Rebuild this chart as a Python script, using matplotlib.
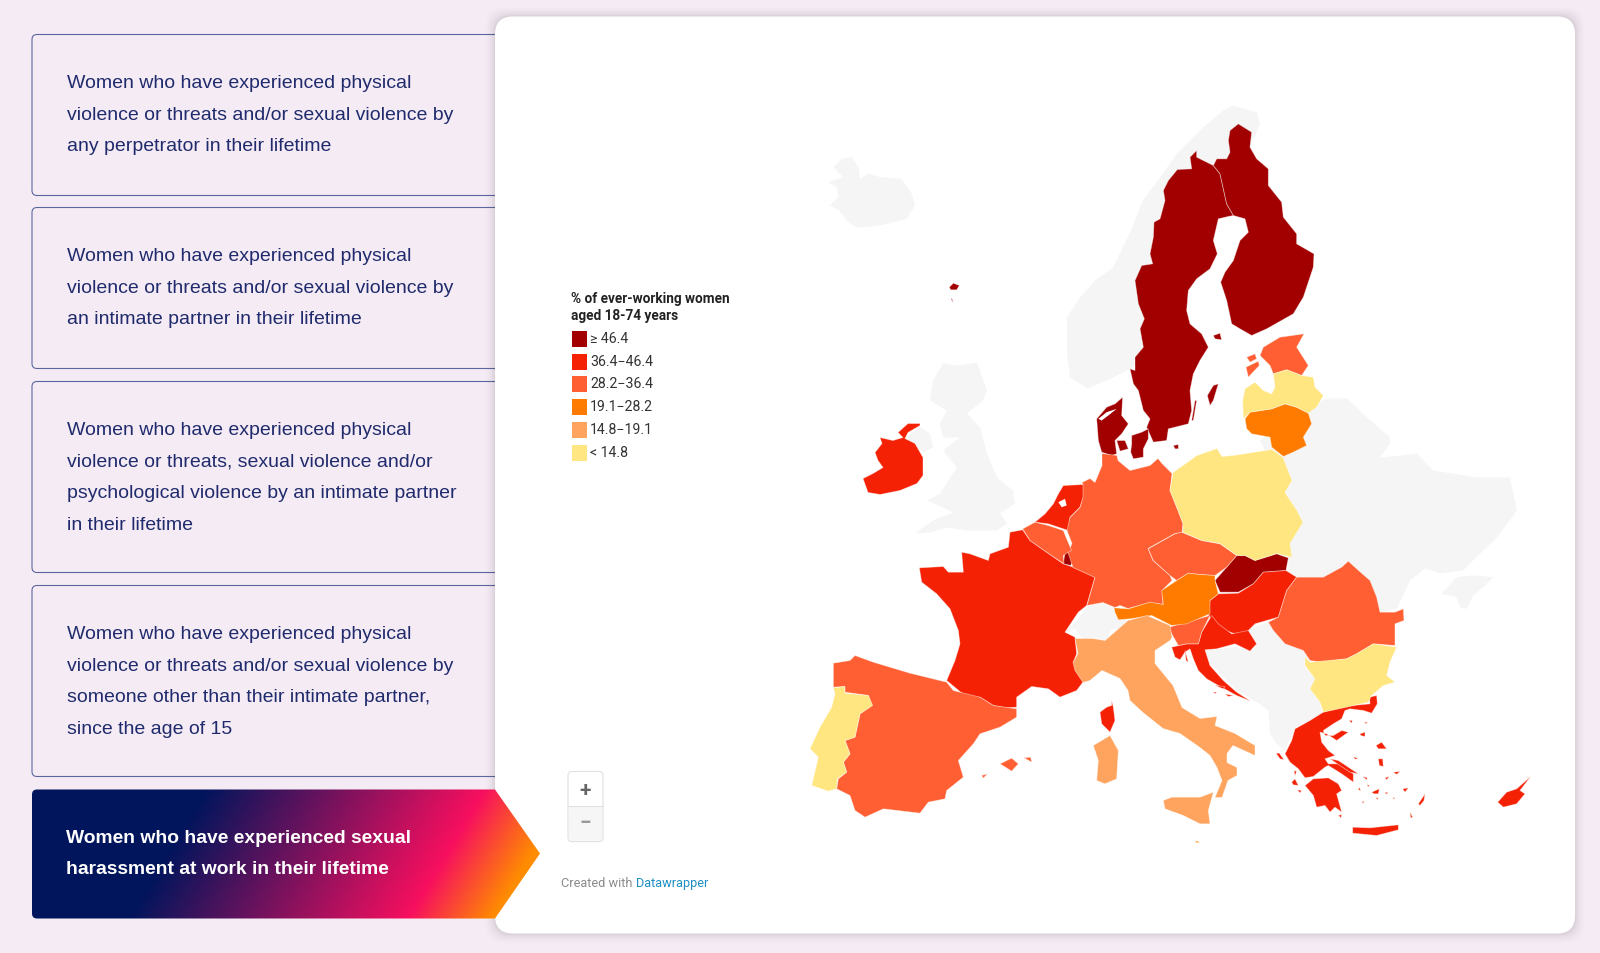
import matplotlib
matplotlib.use("Agg")
import matplotlib.pyplot as plt
import numpy as np
from matplotlib.patches import FancyBboxPatch, Polygon, Rectangle, PathPatch
from matplotlib.path import Path


def crop(x0, y0, pts):
    return [(x0 + x / 3, y0 + y / 3) for x, y in pts]

def nw(pts):
    return crop(780, 90, pts)

def ne(pts):
    return crop(1100, 90, pts)

def sw(pts):
    return crop(800, 480, pts)

def se(pts):
    return crop(1120, 480, pts)

def gr(pts):
    return crop(1270, 690, pts)

def dk(pts):
    return crop(1090, 390, pts)

def hr(pts):
    return crop(1160, 610, pts)


CARD_TEXTS = [
    "Women who have experienced physical\nviolence or threats and/or sexual violence by\nany perpetrator in their lifetime",
    "Women who have experienced physical\nviolence or threats and/or sexual violence by\nan intimate partner in their lifetime",
    "Women who have experienced physical\nviolence or threats, sexual violence and/or\npsychological violence by an intimate partner\nin their lifetime",
    "Women who have experienced physical\nviolence or threats and/or sexual violence by\nsomeone other than their intimate partner,\nsince the age of 15",
]
ACTIVE_TEXT = "Women who have experienced sexual\nharassment at work in their lifetime"
LEGEND_TITLE = "% of ever-working women\naged 18-74 years"
LEGEND_LABELS = ["≥ 46.4", "36.4−46.4", "28.2−36.4", "19.1−28.2", "14.8−19.1", "< 14.8"]
CLASS_COLOURS = ["#a20000", "#f52105", "#ff5f32", "#ff7b00", "#ffa45e", "#ffe680"]
NO_DATA = "#f5f5f5"

# no data
ICELAND = nw([(160,230),(185,205),(215,200),(235,230),(240,265),(265,250),(300,260),(365,265),(395,310),(405,345),(380,385),(300,405),(235,412),(205,395),(178,360),(150,345),(175,320),(170,290),(145,275),(190,260)])
NORWAY = [(1260,123),(1257,112),(1233,105),(1223,110),(1200,130),(1177,153),(1160,177),(1143,200),(1130,232),(1113,267),(1095,280),(1080,297),(1067,317),(1067,353),(1070,377),(1088,388),(1113,377),(1133,367),(1180,300),(1240,170)]
UK = [(943,363),(957,365),(977,362),(987,390),(983,400),(967,413),(980,427),(987,453),(997,477),(1013,490),(1015,503),(1000,513),(1007,523),(997,530),(967,530),(947,527),(930,532),(915,533),(933,520),(953,512),(943,507),(927,500),(940,493),(957,467),(943,450),(960,437),(943,437),(940,423),(947,410),(930,400),(933,380)]
N_IRELAND = nw([(380,1040),(420,1010),(450,1030),(460,1070),(430,1085),(400,1065)])
SWITZERLAND = sw([(830,420),(860,380),(905,365),(945,375),(945,405),(980,420),(965,445),(935,445),(920,480),(880,470),(850,478),(825,445),(790,458)])
EAST_BLOCK = [(1307,407),(1327,398),(1347,398),(1367,417),(1390,437),(1390,443),(1380,457),(1400,455),(1417,453),(1433,470),(1477,477),(1510,477),(1517,510),(1497,537),(1473,560),(1463,570),(1440,573),(1425,568),(1410,580),(1397,608),(1380,612),(1330,620),(1290,580),(1280,480),(1260,440)]
CRIMEA = se([(965,340),(1010,290),(1060,285),(1120,290),(1100,310),(1060,345),(1040,385),(1020,380),(1010,350)])
BALKANS = se([(385,445),(430,430),(445,425),(495,490),(550,510),(570,540),(555,560),(585,595),(570,625),(600,665),(605,700),(560,725),(525,740),(495,810),(470,790),(450,760),(445,690),(420,670),(350,630),(310,590),(265,545),(258,510),(345,500),(400,510),(410,490)])

# class 0
SWEDEN = ne([(290,180),(270,200),(275,235),(232,237),(205,270),(190,300),(195,330),(180,385),(162,395),(160,440),(150,490),(158,520),(125,525),(105,570),(115,640),(133,685),(120,715),(130,770),(105,800),(105,840),(90,835),(100,880),(115,900),(130,960),(150,985),(140,1010),(160,1055),(200,1050),(205,1015),(265,1000),(275,960),(270,900),(280,850),(300,810),(325,770),(305,730),(270,700),(260,660),(265,600),(290,565),(330,535),(352,490),(340,450),(355,385),(385,378),(400,375),(380,340),(360,250),(340,225),(290,200)])
FINLAND = ne([(415,100),(390,120),(385,150),(390,185),(380,205),(350,205),(340,225),(360,250),(380,340),(400,375),(435,385),(445,425),(420,450),(400,510),(375,545),(362,575),(380,630),(395,700),(420,715),(455,735),(500,715),(580,670),(610,620),(640,530),(642,490),(590,460),(590,430),(550,380),(545,335),(505,285),(505,235),(470,205),(450,170),(455,125)])
JUTLAND = dk([(98,20),(95,75),(115,100),(95,130),(75,150),(80,190),(65,195),(35,185),(25,150),(20,85),(50,50),(75,40)])
FUNEN = dk([(80,150),(105,150),(115,175),(90,182)])
ZEALAND = dk([(125,135),(155,125),(175,115),(175,145),(160,175),(160,200),(130,205),(122,185),(125,160)])
GOTLAND = ne([(322,915),(340,885),(355,880),(340,930),(330,945)])
OLAND = ne([(275,990),(285,930),(290,930),(280,990)])
ALAND = ne([(340,735),(360,728),(365,748),(345,745)])
BORNHOLM = ne([(220,1065),(235,1062),(235,1075),(225,1075)])
FAROE = nw([(508,590),(520,578),(538,585),(530,598),(512,598)])
FAROE_S = nw([(515,622),(520,636),(514,628)])
SLOVAKIA = se([(350,225),(375,225),(405,240),(470,220),(505,232),(498,270),(430,275),(400,310),(355,335),(300,335),(285,300),(320,260)])
LUXEMBOURG = sw([(795,215),(808,215),(820,240),(812,255),(790,250)])

# class 1
IRELAND = [(920,423),(908,423),(898,432),(903,437),(893,440),(880,437),(882,443),(875,452),(878,460),(883,467),(873,473),(863,478),(868,492),(880,494),(900,490),(917,483),(923,475),(923,457),(915,443),(905,438),(908,432),(920,425)]
FRANCE = sw([(630,155),(668,148),(690,180),(750,222),(790,250),(820,260),(885,290),(860,375),(835,395),(795,455),(825,470),(830,520),(820,545),(860,590),(830,630),(780,650),(745,625),(695,618),(650,650),(650,680),(620,682),(580,675),(540,650),(500,650),(440,600),(465,540),(480,490),(475,450),(450,385),(410,340),(365,305),(358,262),(430,258),(445,275),(490,275),(485,215),(510,220),(565,240),(570,220),(625,200)])
CORSICA = sw([(935,660),(940,680),(945,720),(930,755),(905,730),(900,695),(920,680),(935,675)])
NETHERLANDS = sw([(850,12),(850,50),(840,80),(810,110),(805,150),(790,145),(745,130),(705,125),(735,100),(760,70),(775,40),(790,15)])
HUNGARY = se([(295,340),(355,338),(400,310),(430,275),(498,270),(530,290),(500,330),(475,410),(405,430),(380,455),(345,460),(300,445),(265,405),(270,360)])
CROATIA = hr([(155,15),(175,40),(215,70),(265,60),(290,100),(270,122),(225,100),(170,115),(135,118),(150,165),(190,210),(230,245),(272,272),(230,255),(175,225),(140,205),(115,180),(100,145),(90,115),(75,125),(60,148),(45,140),(35,110),(80,100),(115,100),(125,65)])
CROATIA_ISLES = [hr(p) for p in [
    [(165,225),(195,228),(190,235)], [(160,245),(170,245),(165,250)], [(195,250),(220,255),(205,258)], [(75,120),(85,155),(78,150)],
]]
GREECE = gr([(160,65),(215,48),(300,40),(298,20),(320,15),(322,40),(305,68),(280,60),(240,55),(225,60),(215,85),(190,100),(160,120),(165,135),(190,135),(215,120),(235,125),(200,150),(170,130),(150,125),(155,155),(175,180),(195,195),(165,205),(175,220),(205,220),(250,250),(250,275),(215,250),(175,225),(165,230),(130,258),(105,262),(85,235),(60,215),(45,190),(65,150),(75,115),(120,90)])
PELOPONNESE = gr([(105,285),(130,265),(175,262),(205,280),(215,300),(200,310),(215,365),(195,350),(180,365),(165,345),(140,350),(130,315)])
EVIA = gr([(180,205),(205,210),(250,240),(265,250),(240,245),(205,222)])
CRETE = gr([(248,410),(300,412),(385,403),(385,418),(320,435),(248,428)])
LESBOS = gr([(318,165),(335,155),(350,175),(325,175)])
CHIOS = gr([(325,205),(338,205),(340,228),(328,225)])
RHODES = gr([(445,340),(465,310),(462,330),(450,345)])
CORFU = gr([(18,188),(28,188),(42,208),(30,205)])
KEFALONIA = gr([(65,275),(75,265),(85,285),(70,283)])
GREEK_ISLES = [gr(p) for p in [
    [(72,240),(80,243),(75,255)], [(82,298),(95,300),(90,307)], [(237,90),(247,90),(245,98)], [(283,95),(292,95),(288,100)],
    [(270,130),(285,125),(285,138),(272,135)], [(250,198),(265,205),(255,206)], [(278,258),(292,262),(290,268)],
    [(345,262),(358,258),(350,268)], [(370,245),(390,243),(380,252)], [(305,305),(328,295),(325,310),(312,310)],
    [(318,322),(325,322),(322,328)], [(345,305),(355,307),(348,311)], [(398,295),(415,292),(405,305)],
    [(268,290),(272,300),(265,298)], [(275,335),(283,332),(280,338)], [(420,365),(428,380),(422,382)],
    [(368,322),(375,322),(372,326)], [(292,282),(298,285),(294,290)], [(205,375),(215,372),(213,382)],
]]
CYPRUS = se([(1232,888),(1200,930),(1215,940),(1190,970),(1150,980),(1133,965),(1160,935),(1190,925)])

# class 2
GERMANY = [(1082,482),(1090,478),(1095,482),(1102,465),(1102,453),(1117,455),(1118,460),(1130,470),(1150,465),(1158,458),(1162,463),(1172,473),(1170,490),(1178,510),(1183,523),(1182,532),(1175,533),(1148,548),(1153,560),(1170,575),(1172,580),(1162,590),(1163,604),(1150,602),(1128,608),(1120,605),(1115,607),(1103,602),(1087,605),(1095,577),(1073,567),(1068,552),(1072,543),(1067,530),(1070,517),(1080,507),(1083,497),(1083,484)]
SPAIN = sw([(165,525),(220,545),(330,578),(440,605),(460,630),(540,650),(580,675),(650,685),(650,710),(600,740),(540,760),(520,790),(475,840),(490,890),(440,930),(435,955),(385,965),(360,998),(250,985),(195,1010),(165,990),(150,945),(110,925),(115,895),(140,875),(130,845),(150,820),(135,780),(165,770),(180,700),(215,675),(205,645),(135,635),(135,618),(100,620),(100,548),(150,540)])
MALLORCA = sw([(600,850),(635,833),(655,850),(635,872)])
MENORCA = sw([(672,832),(692,830),(695,845)])
IBIZA = sw([(545,885),(562,880),(550,893)])
BELGIUM = sw([(668,145),(705,125),(745,135),(790,150),(800,175),(815,210),(805,215),(790,225),(792,250),(750,222),(690,180)])
CZECHIA = se([(165,160),(185,155),(245,180),(300,190),(350,225),(320,260),(285,285),(240,282),(205,278),(170,300),(150,285),(100,240),(85,205)])
SLOVENIA = hr([(28,50),(80,35),(150,15),(125,65),(115,100),(80,100),(55,105),(35,70)])
ROMANIA = se([(500,330),(530,290),(610,290),(665,260),(685,242),(710,265),(750,300),(770,350),(780,395),(825,395),(850,385),(852,420),(825,430),(825,495),(760,490),(710,520),(680,535),(600,545),(570,540),(550,510),(495,490),(460,450),(445,425),(475,410)])
ESTONIA = ne([(540,740),(612,730),(590,770),(625,825),(605,855),(560,838),(520,850),(510,825),(480,795),(490,770)])
SAAREMAA = ne([(438,830),(475,812),(478,825),(445,860)])
HIIUMAA = ne([(440,800),(465,790),(470,805),(450,815)])

# class 3
AUSTRIA = se([(285,300),(295,340),(270,360),(270,400),(200,430),(155,435),(95,405),(30,415),(-5,418),(-15,396),(-18,382),(25,385),(90,365),(130,372),(125,330),(170,300),(205,278),(240,282),(285,285)])
LITHUANIA = ne([(435,985),(450,965),(515,955),(555,940),(590,950),(625,968),(635,1000),(610,1040),(620,1065),(580,1085),(550,1098),(515,1070),(510,1040),(455,1030),(440,1015)])
MALTA = se([(225,1080),(240,1085),(230,1087)])

# class 4
ITALY = [(1170,640),(1155,650),(1155,663),(1173,685),(1182,707),(1200,718),(1217,716),(1215,725),(1235,733),(1255,745),(1255,755),(1233,745),(1227,753),(1227,762),(1237,767),(1237,775),(1228,780),(1222,797),(1215,797),(1222,780),(1217,767),(1210,755),(1200,747),(1180,733),(1163,728),(1143,712),(1130,700),(1128,690),(1120,678),(1102,670),(1090,680),(1083,682),(1075,670),(1073,662),(1078,653),(1075,638),(1093,638),(1105,640),(1128,620),(1147,615),(1170,625),(1172,637)]
SICILY = se([(130,960),(155,950),(240,950),(280,935),(265,990),(270,1030),(240,1030),(190,1005),(135,985)])
SARDINIA = sw([(880,795),(930,765),(955,810),(950,895),(915,910),(890,900),(895,840)])

# class 5
POLAND = [(1173,472),(1197,455),(1217,448),(1222,456),(1233,455),(1272,449),(1283,457),(1292,480),(1285,492),(1297,510),(1303,522),(1290,543),(1292,557),(1277,553),(1255,560),(1245,555),(1237,555),(1220,543),(1202,540),(1183,532),(1183,523),(1178,510),(1170,490)]
LATVIA = ne([(465,875),(490,900),(515,910),(525,890),(520,850),(560,838),(605,855),(640,860),(645,890),(670,915),(650,950),(625,968),(590,950),(555,940),(515,955),(450,965),(430,985),(428,930),(435,895)])
PORTUGAL = sw([(100,622),(133,618),(135,638),(205,645),(218,675),(180,700),(165,770),(135,780),(150,820),(130,845),(140,875),(112,895),(110,925),(85,932),(35,915),(55,830),(30,805),(60,740),(95,680),(105,640)])
BULGARIA = se([(555,530),(570,545),(680,535),(710,520),(760,490),(830,500),(810,545),(800,585),(825,605),(790,615),(755,645),(745,665),(680,680),(610,695),(600,665),(570,625),(585,595),(555,555)])

NO_DATA_SHAPES = [ICELAND, NORWAY, UK, N_IRELAND, SWITZERLAND, EAST_BLOCK, CRIMEA, BALKANS]
CLASS_SHAPES = [
    [SWEDEN, FINLAND, JUTLAND, FUNEN, ZEALAND, GOTLAND, OLAND, ALAND, BORNHOLM, FAROE, FAROE_S, SLOVAKIA, LUXEMBOURG],
    [IRELAND, FRANCE, CORSICA, NETHERLANDS, HUNGARY, CROATIA, GREECE, PELOPONNESE, EVIA, CRETE, LESBOS, CHIOS, RHODES, CORFU, KEFALONIA, CYPRUS] + GREEK_ISLES + CROATIA_ISLES,
    [GERMANY, SPAIN, MALLORCA, MENORCA, IBIZA, BELGIUM, CZECHIA, SLOVENIA, ROMANIA, ESTONIA, SAAREMAA, HIIUMAA],
    [AUSTRIA, LITHUANIA, MALTA],
    [ITALY, SICILY, SARDINIA],
    [POLAND, LATVIA, PORTUGAL, BULGARIA],
]
IJSSELMEER = sw([(775,65),(795,55),(800,75),(785,80)])
LIMFJORD = dk([(25,85),(50,65),(80,55),(55,75),(35,90)])

plt.rcParams["font.family"] = ["Liberation Sans", "DejaVu Sans"]

fig = plt.figure(figsize=(16, 9.54), dpi=100, facecolor="#f5ebf4")
ax = fig.add_axes([0, 0, 1, 1])
ax.set_axis_off()

# left hand cards
card_tops = [34, 207, 381, 585]
card_bottoms = [195, 368, 572, 776]
card_first_line = [82, 255, 429, 633]
for top, bottom, first, txt in zip(card_tops, card_bottoms, card_first_line, CARD_TEXTS):
    ax.add_patch(FancyBboxPatch((32, top), 600, bottom - top, boxstyle="round,pad=0,rounding_size=5",
                                fc="none", ec="#5d679f", lw=0.8, zorder=1))
    for i, line in enumerate(txt.split("\n")):
        ax.text(67, first + i * 31.6, line, color="#1f2b6c", fontsize=14, va="center", ha="left", zorder=2)

# white map panel with a soft shadow
for grow, alpha in zip([9, 7, 5, 3, 1.5], [0.012, 0.016, 0.02, 0.025, 0.03]):
    ax.add_patch(FancyBboxPatch((495 - grow, 16 - grow), 1080 + 2 * grow, 917 + 2 * grow,
                                boxstyle="round,pad=0,rounding_size=18", fc="black", ec="none", alpha=alpha, zorder=3))
ax.add_patch(FancyBboxPatch((495, 16), 1080, 917, boxstyle="round,pad=0,rounding_size=18", fc="white", ec="none", zorder=4))

# highlighted card, gradient clipped to the arrow shape
gx, gy = np.meshgrid(np.arange(30, 545), np.arange(785, 922))
pos = gx + 0.6 * (gy - 789)
stops = [205, 485, 570]
stop_colours = np.array([[0, 21, 92], [247, 15, 95], [255, 140, 0]]) / 255
grad = np.dstack([np.interp(pos, stops, stop_colours[:, k]) for k in range(3)])
im = ax.imshow(grad, extent=(30, 545, 922, 785), aspect="auto", zorder=5, interpolation="bilinear")
arrow = Path([(37, 789), (495, 789), (540, 853), (495, 918), (37, 918), (32, 918), (32, 913), (32, 794), (32, 789), (37, 789)],
             [Path.MOVETO, Path.LINETO, Path.LINETO, Path.LINETO, Path.LINETO, Path.CURVE3, Path.CURVE3, Path.LINETO, Path.CURVE3, Path.CURVE3])
clip = PathPatch(arrow, fc="none", ec="none", transform=ax.transData)
ax.add_patch(clip)
im.set_clip_path(clip)
for i, line in enumerate(ACTIVE_TEXT.split("\n")):
    ax.text(66, 837 + i * 31.5, line, color="white", fontsize=13.9, fontweight="bold", va="center", ha="left", zorder=6)

# map
for shape in NO_DATA_SHAPES:
    ax.add_patch(Polygon(shape, closed=True, fc=NO_DATA, ec="none", zorder=7))
for colour, shapes in zip(CLASS_COLOURS, CLASS_SHAPES):
    for shape in shapes:
        ax.add_patch(Polygon(shape, closed=True, fc=colour, ec="#ffffff70", lw=0.6, zorder=8))
ax.add_patch(Polygon(IJSSELMEER, closed=True, fc="white", ec="none", zorder=9))
ax.add_patch(Polygon(LIMFJORD, closed=True, fc="white", ec="none", zorder=9))

# legend
ax.text(571, 298, LEGEND_TITLE.split("\n")[0], family="Roboto", fontweight="bold", fontsize=9.85, color="#222222", va="center", zorder=10)
ax.text(571, 315, LEGEND_TITLE.split("\n")[1], family="Roboto", fontweight="bold", fontsize=9.85, color="#222222", va="center", zorder=10)
swatch_tops = [330, 353, 375, 398, 421, 444]
for top, colour, lab in zip(swatch_tops, CLASS_COLOURS, LEGEND_LABELS):
    ax.add_patch(Rectangle((572, top), 15, 16, fc=colour, ec="none", zorder=10))
    ax.text(590, top + 8, lab, family="Roboto", fontsize=10.2, color="#333333", va="center", zorder=10)

# zoom buttons
ax.add_patch(FancyBboxPatch((568, 771), 35, 70, boxstyle="round,pad=0,rounding_size=4", fc="white", ec="#e0e0e0", lw=0.8, zorder=10))
ax.add_patch(FancyBboxPatch((569, 806), 33, 34, boxstyle="round,pad=0,rounding_size=3", fc="#f6f6f6", ec="none", zorder=10))
ax.plot([568, 603], [805.5, 805.5], color="#e0e0e0", lw=0.8, zorder=11)
ax.text(585.5, 789, "+", family="Roboto", fontsize=15, fontweight="bold", color="#666666", ha="center", va="center", zorder=11)
ax.text(585.5, 822, "−", family="Roboto", fontsize=15, fontweight="bold", color="#999999", ha="center", va="center", zorder=11)

ax.text(561, 882, "Created with", family="Roboto", fontsize=9.2, color="#8a8a8a", va="center", zorder=10)
ax.text(636, 882, "Datawrapper", family="Roboto", fontsize=9.2, color="#1d8ec4", va="center", zorder=10)

# everything above was read about 1.5 px too high
ax.set_xlim(0, 1600)
ax.set_ylim(952.5, -1.5)
fig.savefig("out.png", dpi=100, facecolor=fig.get_facecolor())
